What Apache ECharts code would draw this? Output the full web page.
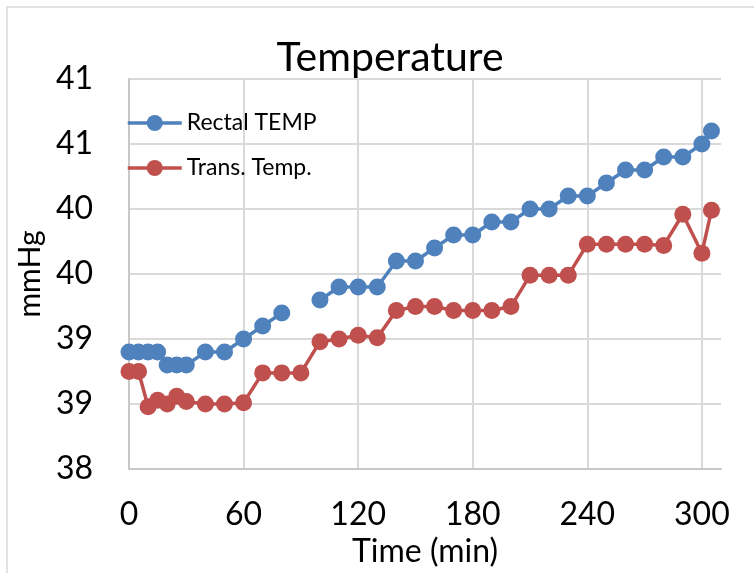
<!DOCTYPE html>
<html>
<head>
<meta charset="utf-8">
<script src="https://cdn.jsdelivr.net/npm/echarts@6/dist/echarts.min.js"></script>
<style>html,body{margin:0;padding:0;background:#fff}#c{width:754px;height:573px}</style>
</head>
<body>
<div id="c"></div>
<script>
var times = [0,5,10,15,20,25,30,40,50,60,70,80,90,100,110,120,130,140,150,160,170,180,190,200,210,220,230,240,250,260,270,280,290,300,305];
var rectalTemp = [38.9,38.9,38.9,38.9,38.8,38.8,38.8,38.9,38.9,39.0,39.1,39.2,null,39.3,39.4,39.4,39.4,39.6,39.6,39.7,39.8,39.8,39.9,39.9,40.0,40.0,40.1,40.1,40.2,40.3,40.3,40.4,40.4,40.5,40.6];
var transTemp = [38.75,38.75,38.48,38.53,38.5,38.56,38.52,38.5,38.5,38.51,38.74,38.74,38.74,38.98,39.0,39.03,39.01,39.22,39.25,39.25,39.22,39.22,39.22,39.25,39.49,39.49,39.49,39.73,39.73,39.73,39.73,39.72,39.96,39.66,39.99];
var seriesNames = ['Rectal TEMP', 'Trans. Temp.'];

function pairs(vals){ return times.map(function(t,i){ return [t, vals[i]]; }); }

var chart = echarts.init(document.getElementById('c'));
var FONT = 'Lato';
chart.setOption({
  animation: false,
  textStyle: { fontFamily: FONT },
  graphic: [{
    type: 'rect', silent: true,
    shape: { x: 7, y: 7, width: 900, height: 700 },
    style: { fill: 'none', stroke: '#d9d9d9', lineWidth: 1.5 }
  }],
  title: {
    text: 'Temperature', left: 385, top: 32, textAlign: 'center',
    textStyle: { fontFamily: FONT, fontSize: 41, fontWeight: 'normal', color: '#000' }
  },
  legend: {
    orient: 'vertical', left: 121, top: 106, itemWidth: 54, itemHeight: 20, itemGap: 21,
    padding: 5,
    lineStyle: { width: 3.5 },
    textStyle: { fontFamily: FONT, fontSize: 23, color: '#000', lineHeight: 24 },
    data: seriesNames.map(function(n){ return { name: n, lineStyle: { width: 3.5 } }; })
  },
  grid: { left: 129, right: 33, top: 79, bottom: 98, containLabel: false },
  xAxis: {
    type: 'value', min: 0, max: 310, interval: 60,
    name: 'Time (min)', nameLocation: 'middle', nameGap: 57,
    nameTextStyle: { fontFamily: FONT, fontSize: 32, color: '#000' },
    axisLine: { show: true, lineStyle: { color: '#c8c8c8', width: 2 } },
    axisTick: { show: false },
    axisLabel: { showMaxLabel: false, fontFamily: FONT, fontSize: 32, color: '#000', margin: 30 },
    splitLine: { show: true, showMaxLine: false, lineStyle: { color: '#d9d9d9', width: 2 } }
  },
  yAxis: {
    type: 'value', min: 38, max: 41, interval: 0.5,
    name: 'mmHg', nameLocation: 'middle', nameGap: 66, nameRotate: 90,
    nameTextStyle: { fontFamily: FONT, fontSize: 30, color: '#000' },
    axisLine: { show: true, lineStyle: { color: '#c8c8c8', width: 2 } },
    axisTick: { show: false },
    axisLabel: { fontFamily: FONT, fontSize: 32, color: '#000', margin: 36,
      formatter: function(v){ return String(Math.round(v)); } },
    splitLine: { show: true, lineStyle: { color: '#d9d9d9', width: 2 } }
  },
  series: [{
    name: seriesNames[0], type: 'line', data: pairs(rectalTemp), connectNulls: false,
    symbol: 'circle', symbolSize: 17, color: '#4f81bd',
    lineStyle: { width: 3.5, color: '#4f81bd' }, itemStyle: { color: '#4f81bd' }
  }, {
    name: seriesNames[1], type: 'line', data: pairs(transTemp),
    symbol: 'circle', symbolSize: 17, color: '#c0504d',
    lineStyle: { width: 3.5, color: '#c0504d' }, itemStyle: { color: '#c0504d' }
  }]
});
</script>
</body>
</html>
